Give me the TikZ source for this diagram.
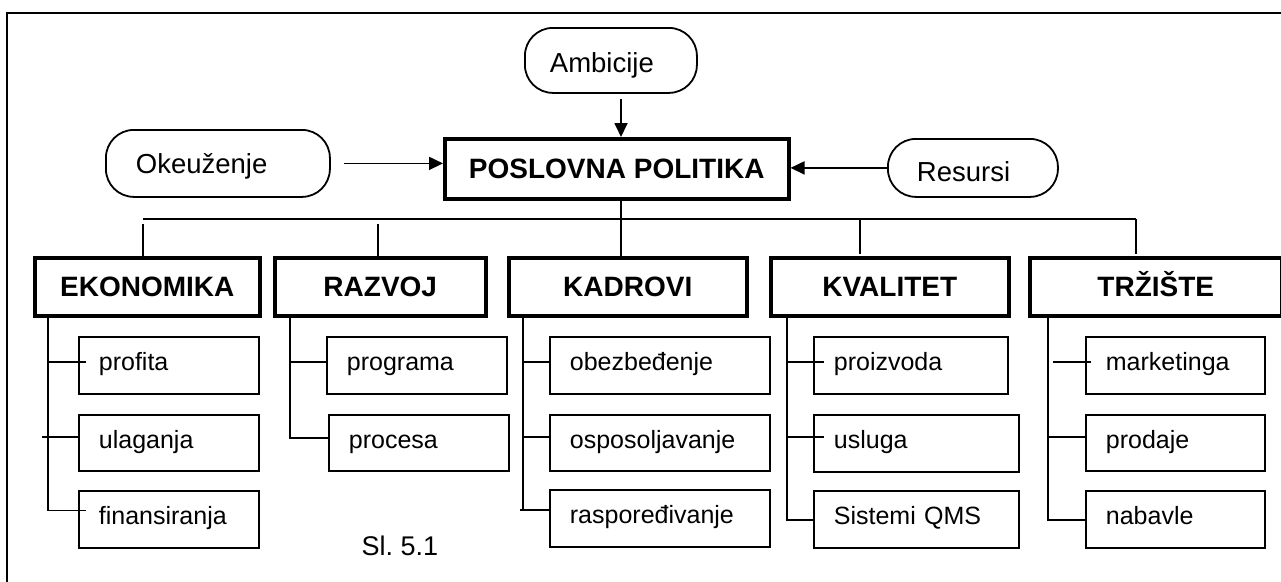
\documentclass[tikz,border=0pt]{standalone}
\usepackage{fontspec}
\setmainfont{Liberation Sans}
\usetikzlibrary{arrows.meta,calc}
\begin{document}
\begin{tikzpicture}[x=1pt,y=-1pt,
  conn/.style={line width=1.8pt},
  arr/.style={conn,-{Triangle[length=14pt,width=13pt]}},
  term/.style={draw,line width=1.8pt,rounded corners=28pt,anchor=north west,
    inner ysep=0pt,align=left,text height=20pt,text depth=0pt,
    font=\fontsize{27.5pt}{33pt}\selectfont},
  mainbox/.style={draw,line width=3.5pt,anchor=north west,inner sep=0pt,
    text height=20pt,text depth=0pt,
    font=\bfseries\fontsize{28pt}{33pt}\selectfont},
  cat/.style={mainbox,minimum height=58pt},
  sub/.style={draw,line width=1.8pt,anchor=north west,inner ysep=0pt,inner xsep=20pt,
    align=left,text height=11pt,text depth=0pt,
    font=\fontsize{25pt}{30pt}\selectfont},
]
\useasboundingbox (0,0) rectangle (1281,581);
\clip (0,0) rectangle (1281,581);
\fill[white] (0,0) rectangle (1281,581);

% outer frame
\draw[line width=1.8pt] (7,13) rectangle (1300,600);

% top level
\node[term,inner xsep=25pt,text width=122pt,minimum height=65pt,text height=25pt] (amb) at (524,27) {Ambicije};
\node[term,inner xsep=30pt,text width=164pt,minimum height=67pt] (oke) at (105,129) {Okeuženje};
\node[term,inner xsep=29pt,text width=112pt,minimum height=58pt,text height=27pt] (res) at (887,138) {Resursi};
\node[mainbox,minimum width=344pt,minimum height=60pt] (pp) at (443,137) {POSLOVNA POLITIKA};

% categories
\node[cat,minimum width=225pt] (eko) at (33,256) {EKONOMIKA};
\node[cat,minimum width=211pt] (raz) at (273,256) {RAZVOJ};
\node[cat,minimum width=238pt] (kad) at (507,256) {KADROVI};
\node[cat,minimum width=238pt] (kva) at (769,256) {KVALITET};
\node[cat,minimum width=252pt] (trz) at (1028,256) {TRŽIŠTE};

% sub items
\node[sub,text width=140pt,minimum height=57pt] (pro) at (78,336) {profita};
\node[sub,text width=140pt,minimum height=56pt] (ula) at (78,414) {ulaganja};
\node[sub,text width=140pt,minimum height=57pt] (fin) at (78,490) {finansiranja};
\node[sub,text width=140pt,minimum height=57pt] (prg) at (326,336) {programa};
\node[sub,text width=140pt,minimum height=56pt] (prc) at (328,414) {procesa};
\node[sub,text width=180pt,minimum height=57pt] (obe) at (549,336) {obezbeđenje};
\node[sub,text width=180pt,minimum height=56pt] (osp) at (549,414) {osposoljavanje};
\node[sub,text width=180pt,minimum height=57pt] (ras) at (549,489) {raspoređivanje};
\node[sub,text width=154pt,minimum height=57pt] (prz) at (813,336) {proizvoda};
\node[sub,text width=165pt,minimum height=57pt] (usl) at (813,414) {usluga};
\node[sub,text width=165pt,minimum height=57pt] (qms) at (813,490) {Sistemi QMS};
\node[sub,text width=139pt,minimum height=57pt] (mkt) at (1085,336) {marketinga};
\node[sub,text width=139pt,minimum height=56pt] (prd) at (1085,414) {prodaje};
\node[sub,text width=139pt,minimum height=57pt] (nab) at (1085,490) {nabavle};

\node[font=\fontsize{27pt}{32pt}\selectfont] (cap) at (400,546) {Sl.\ 5.1};

% inputs to the policy box
\coordinate (ax) at (621,0);
\draw[arr] ($(ax |- amb.south)+(0,5)$) -- (ax |- pp.north);
\draw[arr] ($(oke.east)+(13,0)$) -- (pp.west |- oke.east);
\draw[arr] (res.west) -- (pp.east |- res.west);

% distribution bus
\coordinate (busL) at (143,219);
\coordinate (dR) at (378,219);
\coordinate (dQ) at (860,219);
\coordinate (busR) at (1136,219);
\draw[conn] (busL) -- (busR);
\draw[conn] (ax |- pp.south) -- (ax |- kad.north);
\draw[conn] ($(busL)+(0,5)$) -- (busL |- eko.north);
\draw[conn] ($(dR)+(0,5)$) -- (dR |- raz.north);
\draw[conn] (dQ) -- ($(dQ |- kva.north)+(0,-2)$);
\draw[conn] (busR) -- ($(busR |- trz.north)+(0,-2)$);

% EKONOMIKA branches
\coordinate (s1) at (48,0);
\draw[conn] (s1 |- eko.south) -- ($(s1 |- fin.west)+(0,-9)$) -- ($(fin.west)+(8,-9)$);
\draw[conn] ($(s1 |- pro.west)+(0,-3.5)$) -- ($(pro.west)+(8,-3.5)$);
\draw[conn] ($(s1 |- ula.west)+(-6,-6)$) -- ($(ula.west)+(0,-6)$);

% RAZVOJ branches
\coordinate (s2) at (290,0);
\draw[conn] (s2 |- raz.south) -- ($(s2 |- prc.west)+(0,-5)$) -- ($(prc.west)+(0,-5)$);
\draw[conn] ($(s2 |- prg.west)+(0,-3.5)$) -- ($(prg.west)+(0,-3.5)$);

% KADROVI branches
\coordinate (s3) at (523,0);
\draw[conn] (s3 |- kad.south) -- ($(s3 |- ras.west)+(0,-8.5)$);
\draw[conn] ($(s3 |- ras.west)+(-3,-8.5)$) -- ($(ras.west)+(0,-8.5)$);
\draw[conn] ($(s3 |- obe.west)+(0,-3.5)$) -- ($(obe.west)+(0,-3.5)$);
\draw[conn] ($(s3 |- osp.west)+(-1,-6)$) -- ($(osp.west)+(0,-6)$);

% KVALITET branches
\coordinate (s4) at (787,0);
\draw[conn] (s4 |- kva.south) -- ($(s4 |- qms.west)+(0,0.5)$) -- ($(qms.west)+(0,0.5)$);
\draw[conn] ($(s4 |- prz.west)+(0,-3.5)$) -- ($(prz.west)+(11,-3.5)$);
\draw[conn] ($(s4 |- usl.west)+(0,-6.5)$) -- ($(usl.west)+(11,-6.5)$);

% TRZISTE branches
\coordinate (s5) at (1048,0);
\draw[conn] (s5 |- trz.south) -- ($(s5 |- nab.west)+(0,0.5)$) -- ($(nab.west)+(0,0.5)$);
\draw[conn] ($(s5 |- mkt.west)+(5,-3.5)$) -- ($(mkt.west)+(6,-3.5)$);
\draw[conn] ($(s5 |- prd.west)+(0,-6)$) -- ($(prd.west)+(0,-6)$);
\end{tikzpicture}
\end{document}
